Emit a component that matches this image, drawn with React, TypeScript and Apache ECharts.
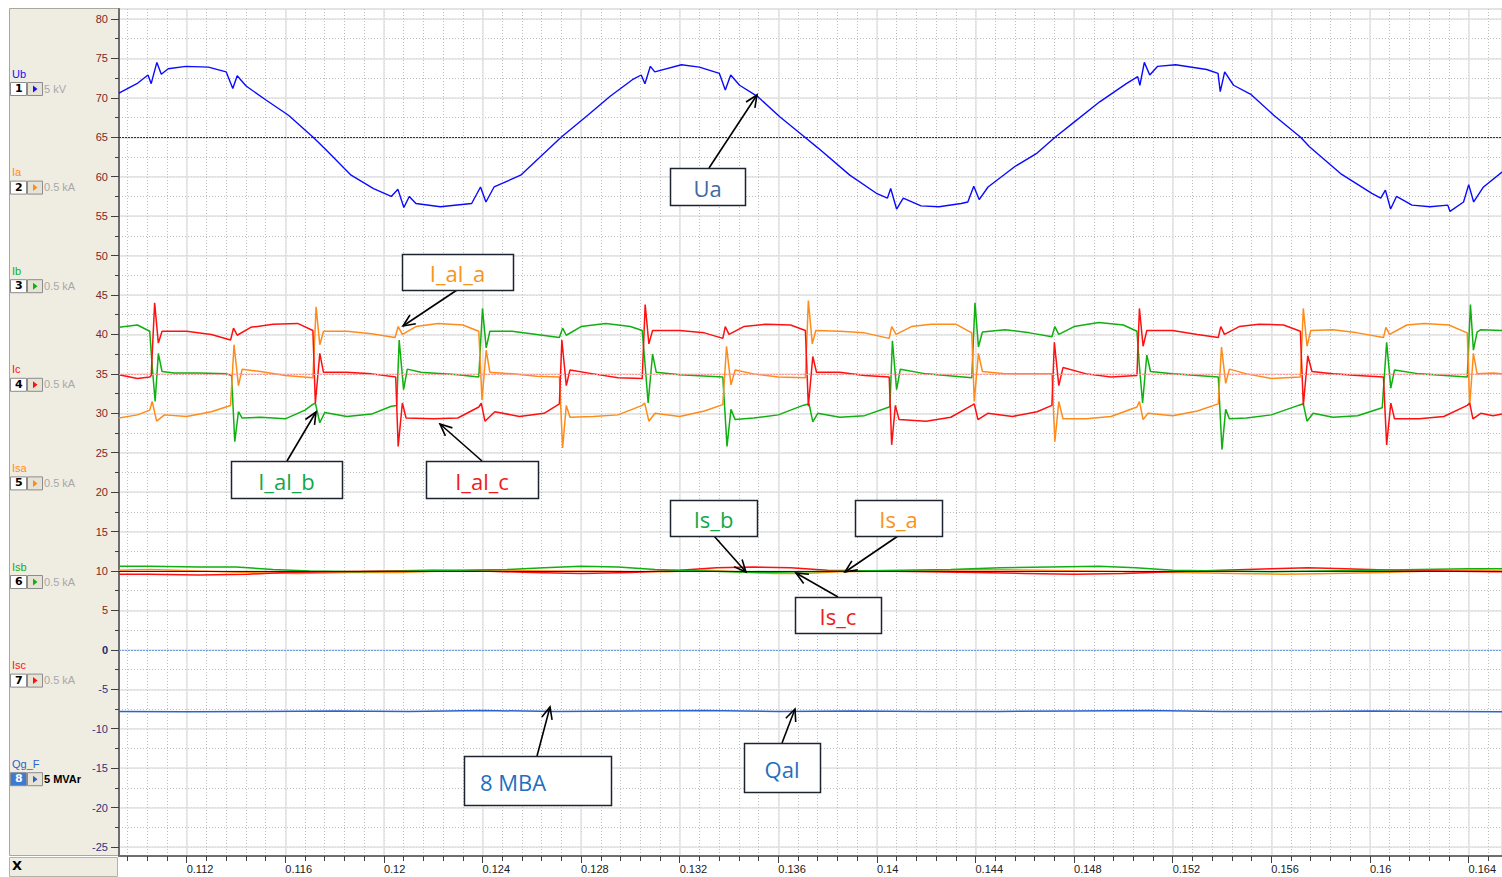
import React, { useEffect, useRef } from "react";
import * as echarts from "echarts";

// ---------- data (time in s, value in chart units) ----------
const uaData: [number, number][] = [
  [0.10925, 70.6], [0.10998, 71.8], [0.11043, 72.9], [0.11056, 71.8], [0.11067, 73.1], [0.11079, 74.5],
  [0.11097, 73.0], [0.11125, 73.7], [0.11197, 74.0], [0.11288, 73.9], [0.1136, 73.3], [0.11387, 71.2],
  [0.11405, 72.8], [0.11441, 71.5], [0.11523, 69.7], [0.11613, 67.8], [0.11713, 65.0], [0.11759, 63.6],
  [0.11867, 60.2], [0.11958, 58.5], [0.1203, 57.5], [0.12057, 58.4], [0.12081, 56.1], [0.12103, 57.5],
  [0.1213, 56.6], [0.12229, 56.2], [0.12356, 56.6], [0.12392, 58.7], [0.12414, 56.8], [0.12447, 58.7],
  [0.12555, 60.2], [0.12719, 65.0], [0.12827, 67.8], [0.12918, 70.2], [0.13008, 72.3], [0.13044, 72.9],
  [0.13059, 71.8], [0.13081, 74.0], [0.13099, 73.3], [0.13207, 74.2], [0.1328, 73.9], [0.13361, 73.1],
  [0.13385, 71.0], [0.13407, 72.9], [0.13443, 71.6], [0.13515, 70.2], [0.13606, 67.6], [0.13708, 65.0],
  [0.13763, 63.6], [0.1389, 60.2], [0.13998, 57.9], [0.14043, 57.3], [0.14056, 58.5], [0.1408, 55.9],
  [0.14107, 57.3], [0.14179, 56.3], [0.14252, 56.2], [0.14342, 56.6], [0.14369, 56.8], [0.14393, 58.8],
  [0.14415, 57.1], [0.14451, 58.7], [0.1456, 61.3], [0.1465, 63.0], [0.14723, 65.0], [0.14795, 66.8],
  [0.14904, 69.5], [0.15012, 71.8], [0.15058, 72.7], [0.15067, 71.6], [0.15085, 74.5], [0.15107, 72.9],
  [0.15139, 74.0], [0.15212, 74.2], [0.15338, 73.6], [0.15384, 73.1], [0.15393, 70.8], [0.15411, 73.3],
  [0.15447, 71.6], [0.15519, 70.4], [0.1561, 67.8], [0.15719, 65.0], [0.15755, 63.8], [0.15881, 60.4],
  [0.16008, 57.9], [0.16044, 57.3], [0.16063, 58.3], [0.16084, 55.9], [0.16108, 57.5], [0.16171, 56.4],
  [0.16244, 56.2], [0.16316, 56.4], [0.16325, 55.6], [0.1638, 56.8], [0.16401, 59.0], [0.16421, 56.8],
  [0.16461, 58.7], [0.16536, 60.6],
];

const iAlB: [number, number][] = [
  [0.10925, 40.9], [0.1100, 41.2], [0.1105, 40.4],
  [0.1106, 36.0], [0.11072, 31.5], [0.11085, 37.6], [0.111, 35.3], [0.1115, 35.1],
  [0.1125, 35.1], [0.1136, 35.0],
  [0.11382, 34.8], [0.11395, 26.4], [0.1141, 30.2], [0.11425, 29.4],
  [0.115, 29.5], [0.116, 29.3], [0.1168, 30.4], [0.1171, 31.1],
  [0.11722, 31.3], [0.1174, 28.8], [0.1176, 30.1],
  [0.1185, 29.6], [0.1195, 29.9], [0.1203, 30.9],
  [0.12052, 31.0], [0.12062, 39.3], [0.1208, 33.0], [0.12095, 35.6], [0.1215, 35.2],
  [0.123, 34.9], [0.12385, 34.6],
  [0.124, 43.3], [0.12415, 38.3], [0.1243, 40.4],
  [0.1252, 40.4], [0.1262, 40.0], [0.12712, 39.6],
  [0.12725, 40.8], [0.1274, 39.9], [0.128, 41.0],
  [0.129, 41.4], [0.13, 41.0], [0.13048, 40.5],
  [0.1306, 36.0], [0.13072, 31.3], [0.1309, 37.5], [0.13105, 35.2],
  [0.132, 34.9], [0.13375, 34.6],
  [0.13392, 25.8], [0.13408, 30.5], [0.13425, 29.2],
  [0.135, 29.4], [0.136, 29.8], [0.137, 31.0],
  [0.13725, 31.2], [0.1374, 28.9], [0.1376, 30.0],
  [0.1385, 29.5], [0.1395, 29.7], [0.1405, 30.8],
  [0.14053, 31.0], [0.14063, 39.2], [0.1408, 33.0], [0.14095, 35.6],
  [0.142, 35.0], [0.14385, 34.5],
  [0.14398, 44.0], [0.14412, 38.4], [0.14428, 40.3],
  [0.1452, 40.6], [0.1462, 40.2], [0.1471, 39.7],
  [0.14722, 41.0], [0.14738, 40.0], [0.148, 41.0],
  [0.149, 41.5], [0.15, 41.2], [0.15055, 40.4],
  [0.15065, 36.0], [0.15078, 31.3], [0.15095, 37.4], [0.1511, 35.3],
  [0.152, 35.0], [0.15385, 34.6],
  [0.154, 25.4], [0.15415, 30.5], [0.1543, 29.3],
  [0.155, 29.4], [0.156, 29.8], [0.1571, 31.0],
  [0.1573, 31.2], [0.15745, 29.0], [0.1577, 30.0],
  [0.1585, 29.5], [0.1595, 29.7], [0.1605, 30.7],
  [0.16068, 39.0], [0.16085, 33.2], [0.161, 35.5],
  [0.162, 35.0], [0.16395, 34.6],
  [0.16408, 43.8], [0.1642, 38.0], [0.16435, 40.3],
  [0.1645, 40.6], [0.16536, 40.5],
];

const iAlC: [number, number][] = [
  [0.10925, 34.9], [0.11, 34.4], [0.1105, 34.6],
  [0.11056, 34.8], [0.1107, 44.0], [0.11085, 38.9], [0.111, 40.4],
  [0.112, 40.4], [0.113, 40.0], [0.11378, 39.3],
  [0.1139, 40.8], [0.11405, 39.9], [0.1146, 40.9],
  [0.1155, 41.3], [0.1165, 41.4], [0.11712, 40.5],
  [0.11722, 31.3], [0.1174, 37.6], [0.11755, 35.2],
  [0.1185, 35.2], [0.1195, 35.0], [0.12048, 34.6],
  [0.12058, 25.8], [0.12075, 31.3], [0.1209, 29.4],
  [0.122, 29.3], [0.123, 29.4], [0.12385, 30.8],
  [0.12395, 31.3], [0.1241, 29.0], [0.1245, 30.2],
  [0.1255, 29.6], [0.1265, 30.0], [0.12712, 31.2],
  [0.12722, 39.3], [0.1274, 33.5], [0.12755, 35.5],
  [0.1285, 35.0], [0.1295, 34.5], [0.13048, 34.4],
  [0.1306, 43.8], [0.13075, 38.8], [0.1309, 40.5],
  [0.132, 40.5], [0.133, 40.2], [0.13375, 39.5],
  [0.13385, 41.0], [0.134, 40.0], [0.1346, 41.0],
  [0.1355, 41.3], [0.1365, 41.2], [0.1371, 40.5],
  [0.13722, 30.9], [0.1374, 37.2], [0.13755, 35.2],
  [0.1385, 35.2], [0.1395, 34.8], [0.1405, 34.6],
  [0.1406, 26.0], [0.14075, 31.0], [0.1409, 29.2],
  [0.142, 29.0], [0.143, 29.5], [0.14385, 31.0],
  [0.14395, 31.2], [0.1441, 29.2], [0.1445, 30.0],
  [0.1455, 29.6], [0.1465, 30.2], [0.1471, 31.0],
  [0.1472, 39.0], [0.14738, 33.5], [0.14755, 35.8],
  [0.1485, 35.0], [0.1495, 34.6], [0.15055, 34.8],
  [0.15065, 43.3], [0.1508, 38.5], [0.15095, 40.5],
  [0.152, 40.5], [0.153, 40.0], [0.15385, 39.6],
  [0.15395, 41.0], [0.1541, 40.0], [0.1547, 41.0],
  [0.1555, 41.3], [0.1565, 41.2], [0.15718, 40.4],
  [0.1573, 31.0], [0.15748, 37.3], [0.15765, 35.3],
  [0.1585, 35.0], [0.1595, 34.8], [0.16055, 34.6],
  [0.16068, 26.0], [0.16085, 31.3], [0.161, 29.3],
  [0.162, 29.3], [0.163, 29.6], [0.16395, 31.0],
  [0.16405, 31.3], [0.16418, 29.3], [0.1645, 30.0],
  [0.165, 29.7], [0.16536, 29.9],
];

const iAlA: [number, number][] = [
  [0.10925, 29.4], [0.11, 29.8], [0.1105, 30.4],
  [0.1106, 31.5], [0.11078, 29.0], [0.1111, 29.8],
  [0.112, 29.6], [0.113, 30.2], [0.11378, 31.0],
  [0.11392, 38.7], [0.1141, 33.5], [0.11425, 35.6],
  [0.115, 35.3], [0.116, 34.8], [0.11712, 34.5],
  [0.11725, 43.5], [0.1174, 38.7], [0.11755, 40.4],
  [0.1185, 40.4], [0.1195, 40.1], [0.12045, 39.6],
  [0.12058, 41.0], [0.12075, 40.0], [0.1213, 41.0],
  [0.1222, 41.4], [0.1232, 41.2], [0.12385, 40.4],
  [0.12398, 31.7], [0.12415, 38.0], [0.1243, 35.2],
  [0.1252, 35.0], [0.1262, 34.7], [0.12712, 34.6],
  [0.12725, 25.6], [0.1274, 31.0], [0.12755, 29.5],
  [0.1285, 29.6], [0.1295, 29.8], [0.13048, 31.0],
  [0.13058, 31.3], [0.13075, 29.0], [0.131, 30.0],
  [0.132, 29.6], [0.133, 30.3], [0.13375, 31.1],
  [0.1339, 38.5], [0.13408, 33.6], [0.13425, 35.5],
  [0.135, 35.0], [0.136, 34.6], [0.1371, 34.5],
  [0.13722, 44.3], [0.13738, 38.8], [0.13752, 40.5],
  [0.1385, 40.4], [0.1395, 40.2], [0.1405, 39.5],
  [0.1406, 41.0], [0.14078, 40.0], [0.1414, 41.0],
  [0.1422, 41.3], [0.1432, 41.3], [0.14385, 40.2],
  [0.14395, 31.5], [0.14412, 37.6], [0.14428, 35.3],
  [0.1452, 35.0], [0.1462, 35.0], [0.1471, 35.0],
  [0.14722, 26.4], [0.14738, 31.5], [0.14755, 29.3],
  [0.1485, 29.3], [0.1495, 29.6], [0.15055, 30.8],
  [0.15065, 31.5], [0.1508, 29.2], [0.151, 30.0],
  [0.152, 29.7], [0.153, 30.3], [0.15385, 31.2],
  [0.15398, 38.4], [0.15415, 33.8], [0.1543, 35.6],
  [0.155, 35.0], [0.156, 34.4], [0.15718, 34.6],
  [0.1573, 43.3], [0.15745, 38.5], [0.1576, 40.5],
  [0.1585, 40.6], [0.1595, 40.2], [0.16055, 39.6],
  [0.16065, 40.9], [0.1608, 40.0], [0.1615, 41.2],
  [0.1622, 41.4], [0.1632, 41.2], [0.16395, 40.2],
  [0.16405, 31.0], [0.1642, 37.6], [0.16435, 35.0],
  [0.165, 35.1], [0.16536, 35.0],
];

const isA: [number, number][] = [
  [0.10925, 10.1], [0.1105, 10.2], [0.1125, 10.0], [0.1145, 9.8], [0.1165, 9.7], [0.1185, 9.8],
  [0.1205, 9.8], [0.1225, 10.0], [0.1245, 10.1], [0.1265, 10.0], [0.1285, 10.0], [0.13, 9.9],
  [0.1315, 9.9], [0.133, 10.1], [0.1345, 9.9], [0.1358, 9.7], [0.137, 9.7], [0.1385, 9.9],
  [0.1405, 10.0], [0.1425, 10.1], [0.1445, 10.2], [0.1465, 10.1], [0.1485, 10.0], [0.1505, 9.9],
  [0.1525, 9.8], [0.1545, 9.7], [0.1565, 9.6], [0.1585, 9.7], [0.1605, 9.8], [0.1625, 10.0],
  [0.1645, 10.1], [0.16536, 10.0],
];
const isB: [number, number][] = [
  [0.10925, 10.6], [0.1105, 10.6], [0.1125, 10.5], [0.114, 10.5], [0.1155, 10.2], [0.117, 10.0],
  [0.119, 9.9], [0.121, 10.0], [0.123, 10.1], [0.125, 10.2], [0.1265, 10.4], [0.128, 10.6],
  [0.1295, 10.5], [0.131, 10.2], [0.133, 10.0], [0.135, 9.8], [0.137, 9.9], [0.139, 10.0],
  [0.141, 10.1], [0.143, 10.2], [0.145, 10.4], [0.147, 10.5], [0.149, 10.6], [0.1505, 10.4],
  [0.152, 10.1], [0.154, 10.0], [0.156, 9.9], [0.158, 10.0], [0.16, 10.1], [0.162, 10.2],
  [0.164, 10.3], [0.16536, 10.3],
];
const isC: [number, number][] = [
  [0.10925, 9.6], [0.1105, 9.6], [0.1125, 9.5], [0.1145, 9.6], [0.116, 9.8], [0.118, 9.9],
  [0.12, 10.0], [0.122, 10.1], [0.124, 10.0], [0.126, 9.8], [0.128, 9.7], [0.13, 9.8],
  [0.132, 10.1], [0.1335, 10.4], [0.135, 10.5], [0.1365, 10.4], [0.138, 10.1], [0.14, 10.0],
  [0.142, 9.9], [0.144, 9.8], [0.146, 9.7], [0.148, 9.6], [0.15, 9.7], [0.152, 9.9],
  [0.154, 10.1], [0.156, 10.3], [0.1575, 10.4], [0.159, 10.3], [0.161, 10.1], [0.163, 10.0],
  [0.165, 9.9], [0.16536, 9.9],
];
const qalData: [number, number][] = [
  [0.10925, -7.8], [0.112, -7.85], [0.115, -7.8], [0.118, -7.75], [0.121, -7.8], [0.124, -7.7],
  [0.127, -7.8], [0.13, -7.75], [0.133, -7.7], [0.136, -7.8], [0.139, -7.75], [0.142, -7.8],
  [0.145, -7.8], [0.148, -7.75], [0.151, -7.7], [0.154, -7.8], [0.157, -7.8], [0.16, -7.75],
  [0.163, -7.8], [0.16536, -7.85],
];

// reference (zero) levels of channel groups
const zeroLevels = [65, 35, 10, 0];
const zeroColors = ["#28288a", "#ff9a9a", "#202020", "#6f9be0"];

const xTickLabels = [0.112, 0.116, 0.12, 0.124, 0.128, 0.132, 0.136, 0.14, 0.144, 0.148, 0.152, 0.156, 0.16, 0.164];
const yTickLabels = [80, 75, 70, 65, 60, 55, 50, 45, 40, 35, 30, 25, 20, 15, 10, 5, 0, -5, -10, -15, -20, -25];

const channels = [
  { name: "Ub", num: "1", color: "#1010ff", unit: "5 kV" },
  { name: "Ia", num: "2", color: "#ff8c1a", unit: "0.5 kA" },
  { name: "Ib", num: "3", color: "#10b010", unit: "0.5 kA" },
  { name: "Ic", num: "4", color: "#ff1010", unit: "0.5 kA" },
  { name: "Isa", num: "5", color: "#ff8c1a", unit: "0.5 kA" },
  { name: "Isb", num: "6", color: "#10b010", unit: "0.5 kA" },
  { name: "Isc", num: "7", color: "#ff1010", unit: "0.5 kA" },
  { name: "Qg_F", num: "8", color: "#2a62c8", unit: "5 MVAr" },
];

const annotations = [
  { text: "Ua", color: "#3f6aa0", box: [670, 168, 75, 37], from: [709, 168], to: [757, 95], tx: 0 },
  { text: "I_al_a", color: "#f7941d", box: [402, 254, 111, 36], from: [457, 290], to: [403, 326], tx: 0 },
  { text: "I_al_b", color: "#12a84a", box: [231, 461, 111, 37], from: [287, 461], to: [316, 412], tx: 0 },
  { text: "I_al_c", color: "#ee1c1c", box: [426, 461, 112, 37], from: [482, 461], to: [440, 424], tx: 0 },
  { text: "Is_b", color: "#12a84a", box: [670, 500, 87, 36], from: [714, 536], to: [746, 572], tx: 0 },
  { text: "Is_a", color: "#f7941d", box: [855, 500, 87, 36], from: [898, 536], to: [845, 572], tx: 0 },
  { text: "Is_c", color: "#ee1c1c", box: [795, 597, 86, 36], from: [838, 597], to: [796, 573], tx: 0 },
  { text: "8 MBA", color: "#1f6fc0", box: [464, 756, 147, 49], from: [537, 756], to: [550, 707], tx: 480 },
  { text: "Qal", color: "#1f6fc0", box: [744, 743, 76, 49], from: [782, 743], to: [795, 709], tx: 0 },
];

const X_MIN = 0.109254;
const X_MAX = 0.16536;
const Y_MIN = -26.14;
const Y_MAX = 81.27;

function steps(from: number, to: number, step: number, digits: number) {
  const out: number[] = [];
  for (let v = from; v <= to + step / 2; v += step) out.push(+v.toFixed(digits));
  return out;
}

const xMinor = steps(0.1096, 0.1648, 0.0008, 5);
const yMinor = steps(-25, 80, 2.5, 2);

function buildGraphics() {
  const g: any[] = [];
  // left panel
  g.push({ type: "rect", shape: { x: 9.5, y: 8.5, width: 110, height: 847 }, style: { fill: "#efece2", stroke: "#a9a79c", lineWidth: 1 }, z: 0 });
  g.push({ type: "rect", shape: { x: 9.5, y: 857.5, width: 108, height: 19 }, style: { fill: "#efece2", stroke: "#b5b2a6", lineWidth: 1 }, z: 0 });
  g.push({ type: "text", x: 12, y: 859, style: { text: "X", font: "bold 13px 'DejaVu Sans', sans-serif", fill: "#000" }, z: 5 });
  channels.forEach((c, i) => {
    const top = 82 + i * 98.6;
    const sel = c.num === "8";
    g.push({ type: "text", x: 12, y: top - 14, style: { text: c.name, font: "11px 'Liberation Sans', Arial, sans-serif", fill: c.color }, z: 5 });
    g.push({ type: "rect", shape: { x: 10.5, y: top + 0.5, width: 16, height: 13 }, style: { fill: sel ? "#3b7bd6" : "#ffffff", stroke: "#8c8c8c", lineWidth: 1 }, z: 5 });
    g.push({ type: "text", x: 15, y: top + 1, style: { text: c.num, font: "bold 11px 'DejaVu Sans', sans-serif", fill: sel ? "#ffffff" : "#000000" }, z: 6 });
    g.push({ type: "rect", shape: { x: 27.5, y: top + 0.5, width: 15, height: 13 }, style: { fill: "#e6e3d6", stroke: "#8c8c8c", lineWidth: 1 }, z: 5 });
    g.push({ type: "polygon", shape: { points: [[33, top + 3.5], [33, top + 10.5], [37.5, top + 7]] }, style: { fill: c.color }, z: 6 });
    g.push({ type: "text", x: 44, y: top + 1, style: { text: c.unit, font: sel ? "bold 11px 'Liberation Sans', Arial, sans-serif" : "11px 'Liberation Sans', Arial, sans-serif", fill: sel ? "#000000" : "#a8a8a8" }, z: 5 });
  });
  // annotations
  annotations.forEach((a) => {
    const [bx, by, bw, bh] = a.box;
    g.push({ type: "rect", shape: { x: bx + 0.5, y: by + 0.5, width: bw, height: bh }, style: { fill: "#ffffff", stroke: "#1c2430", lineWidth: 1.5 }, z: 20 });
    g.push({
      type: "text", x: a.tx ? a.tx : bx + bw / 2, y: by + bh / 2 + 1,
      style: { text: a.text, font: "22px 'Open Sans', 'Noto Sans', sans-serif", fill: a.color, align: a.tx ? "left" : "center", verticalAlign: "middle" },
      z: 21,
    });
    const [x1, y1] = a.from;
    const [x2, y2] = a.to;
    g.push({ type: "line", shape: { x1, y1, x2, y2 }, style: { stroke: "#000", lineWidth: 1.6 }, z: 19 });
    const ang = Math.atan2(y2 - y1, x2 - x1);
    const L = 13;
    const spread = 0.42;
    const p1 = [x2 - L * Math.cos(ang - spread), y2 - L * Math.sin(ang - spread)];
    const p2 = [x2 - L * Math.cos(ang + spread), y2 - L * Math.sin(ang + spread)];
    g.push({ type: "polyline", shape: { points: [p1, [x2, y2], p2] }, style: { stroke: "#000", lineWidth: 1.6, fill: null }, z: 19 });
  });
  return g;
}

export default function App() {
  const ref = useRef<HTMLDivElement>(null);
  useEffect(() => {
    if (!ref.current) return;
    const chart = echarts.init(ref.current, undefined, { renderer: "svg" });
    const lineSeries = (name: string, data: [number, number][], color: string, width = 1.4) => ({
      name, type: "line", data, showSymbol: false, symbol: "none", xAxisIndex: 0, yAxisIndex: 0,
      lineStyle: { color, width }, itemStyle: { color }, z: 3, silent: true,
    });
    chart.setOption({
      animation: false,
      backgroundColor: "#ffffff",
      grid: { left: 119, right: 0, top: 9, bottom: 21, show: true, borderColor: "#c8c8c8", borderWidth: 1, backgroundColor: "#ffffff" },
      xAxis: [
        {
          type: "value", min: X_MIN, max: X_MAX, position: "bottom",
          axisLine: { show: true, onZero: false, lineStyle: { color: "#6e6e6e", width: 2 } },
          axisTick: { show: true, customValues: xMinor, length: 5, lineStyle: { color: "#404040" } },
          axisLabel: {
            customValues: xTickLabels, color: "#202020", fontSize: 11, fontFamily: "'Liberation Sans', Arial, sans-serif",
            align: "left", margin: 7, formatter: (v: number) => String(+v.toFixed(3)),
          },
          splitLine: { show: true, lineStyle: { color: "#bdbdbd", type: [1, 2], width: 1 } },
        },
        {
          type: "value", min: X_MIN, max: X_MAX, position: "bottom",
          axisLine: { show: false, onZero: false },
          axisTick: { show: true, customValues: xTickLabels, length: 7, lineStyle: { color: "#404040" } },
          axisLabel: { show: false },
          splitLine: { show: true, lineStyle: { color: "#e2e2e2", type: "solid", width: 1.5 } },
        },
      ],
      yAxis: [
        {
          type: "value", min: Y_MIN, max: Y_MAX, position: "left",
          axisLine: { show: true, onZero: false, lineStyle: { color: "#6e6e6e", width: 2 } },
          axisTick: { show: true, customValues: yMinor, length: 4, lineStyle: { color: "#404040" } },
          axisLabel: {
            customValues: yTickLabels, fontSize: 11, margin: 11, fontFamily: "'Liberation Sans', Arial, sans-serif",
            formatter: (v: number) => (v > 0 ? `{p|${v}}` : v === 0 ? `{z|0}` : `{n|${v}}`),
            rich: {
              p: { color: "#7d2828", fontSize: 11, fontFamily: "'Liberation Sans', Arial, sans-serif" },
              n: { color: "#2a3380", fontSize: 11, fontFamily: "'Liberation Sans', Arial, sans-serif" },
              z: { color: "#1e2a70", fontSize: 11, fontWeight: "bold", fontFamily: "'Liberation Sans', Arial, sans-serif" },
            },
          },
          splitLine: { show: true, lineStyle: { color: "#bdbdbd", type: [1, 2], width: 1 } },
        },
        {
          type: "value", min: Y_MIN, max: Y_MAX, position: "left",
          axisLine: { show: false, onZero: false },
          axisTick: { show: true, customValues: yTickLabels, length: 8, lineStyle: { color: "#404040" } },
          axisLabel: { show: false },
          splitLine: { show: true, lineStyle: { color: "#e2e2e2", type: "solid", width: 1.5 } },
        },
      ],
      series: [
        {
          name: "zero", type: "line", data: [], xAxisIndex: 0, yAxisIndex: 0, z: 2, silent: true,
          markLine: {
            symbol: "none", silent: true, label: { show: false },
            data: zeroLevels.map((v, i) => ({
              yAxis: v,
              lineStyle: { color: zeroColors[i], type: i === 2 ? "solid" : [2, 1], width: 1 },
            })),
          },
        },
        lineSeries("Ua", uaData, "#0a0aff"),
        lineSeries("I_al_b", iAlB, "#10b010", 1.5),
        lineSeries("I_al_a", iAlA, "#ff8c1a", 1.5),
        lineSeries("I_al_c", iAlC, "#ff1010", 1.5),
        lineSeries("Is_a", isA, "#ff8c1a", 1.5),
        lineSeries("Is_c", isC, "#ff1010", 1.5),
        lineSeries("Is_b", isB, "#10b010", 1.5),
        lineSeries("Qal", qalData, "#2a62d0", 1.5),
      ],
      graphic: { elements: buildGraphics() },
    });
    return () => chart.dispose();
  }, []);
  return (
    <div
      ref={ref}
      style={{ position: "absolute", left: 0, top: 0, width: 1502, height: 877, background: "#fff" }}
    />
  );
}
